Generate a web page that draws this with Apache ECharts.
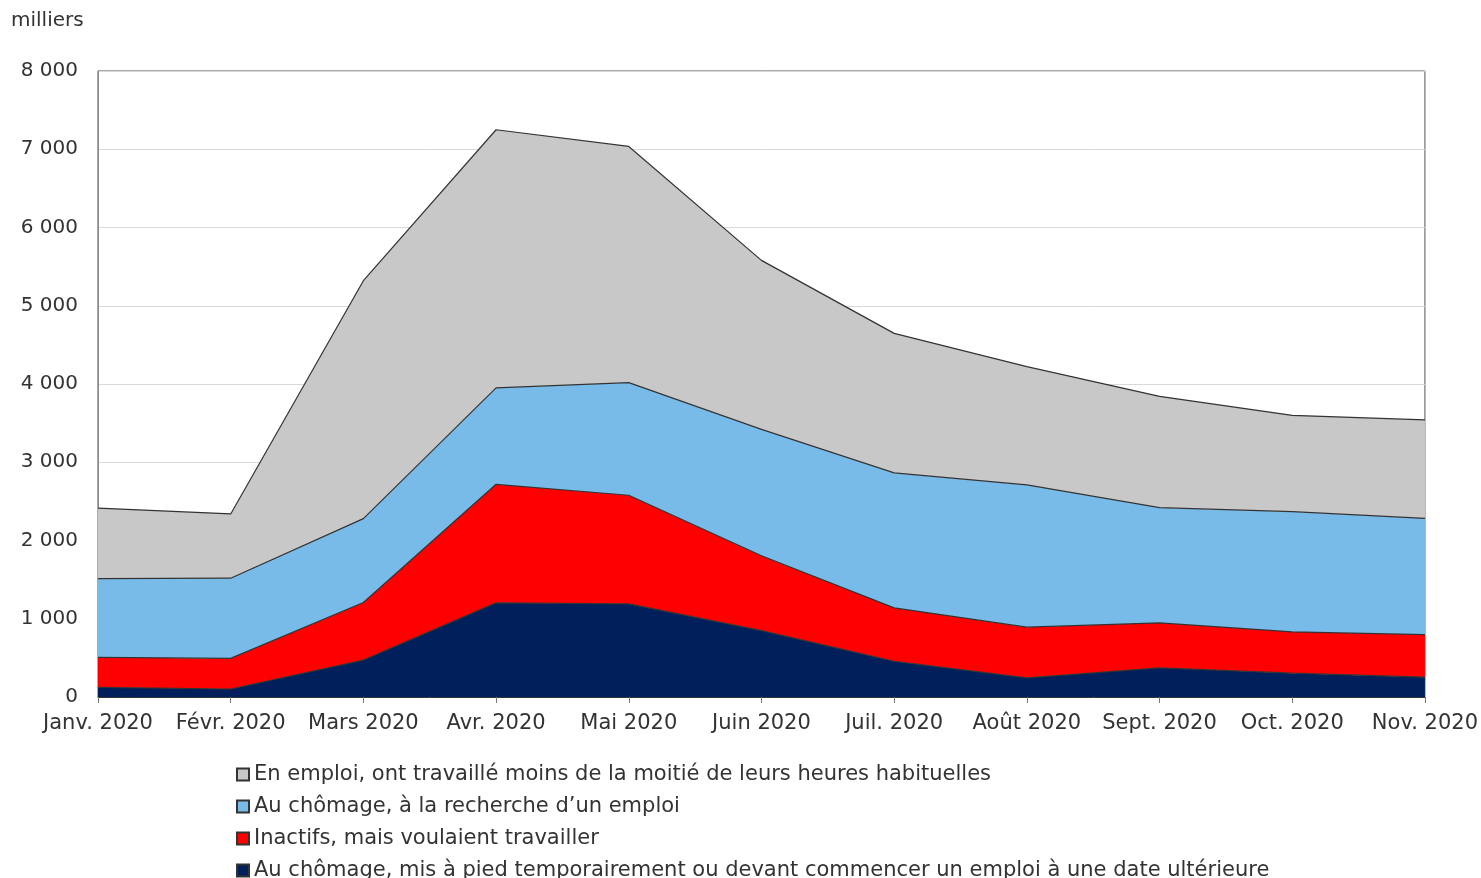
<!DOCTYPE html>
<html>
<head>
<meta charset="utf-8">
<script src="https://cdn.jsdelivr.net/npm/echarts@6/dist/echarts.min.js"></script>
<style>
  html, body { margin: 0; padding: 0; background: #ffffff; }
  #chart { width: 1481px; height: 878px; }
</style>
</head>
<body>
<div id="chart"></div>
<script>
const months = ["Janv. 2020", "Févr. 2020", "Mars 2020", "Avr. 2020", "Mai 2020", "Juin 2020",
  "Juil. 2020", "Août 2020", "Sept. 2020", "Oct. 2020", "Nov. 2020"];

// milliers, stacked from the bottom
const misAPied = [124, 102, 472, 1203, 1190, 849, 457, 245, 373, 304, 253];
const inactifs = [382, 391, 736, 1515, 1388, 956, 682, 647, 575, 529, 545];
const recherche = [1008, 1025, 1072, 1232, 1439, 1615, 1725, 1818, 1472, 1536, 1486];
const moinsMoitie = [901, 821, 3040, 3299, 3019, 2160, 1783, 1511, 1422, 1231, 1257];

const names = [
  "Au chômage, mis à pied temporairement ou devant commencer un emploi à une date ultérieure",
  "Inactifs, mais voulaient travailler",
  "Au chômage, à la recherche d\u2019un emploi",
  "En emploi, ont travaillé moins de la moitié de leurs heures habituelles",
];
const colors = ["#001f5b", "#ff0000", "#78bbe9", "#c8c8c8"];
const values = [misAPied, inactifs, recherche, moinsMoitie];

const FONT = "DejaVu Sans";
const TXT = "#333";
const fmt = (v) => String(v).replace(/\B(?=(\d{3})+(?!\d))/g, " ");

const chart = echarts.init(document.getElementById("chart"), null, { renderer: "canvas" });

chart.setOption({
  backgroundColor: "#ffffff",
  animation: false,
  textStyle: { fontFamily: FONT, color: TXT },
  title: {
    text: "milliers",
    left: 11,
    top: 11,
    padding: 0,
    textStyle: { fontFamily: FONT, fontSize: 20, fontWeight: "normal", color: TXT },
  },
  grid: {
    left: 98, right: 56, top: 71, bottom: 181,
    show: true, borderColor: "#555", borderWidth: 1, backgroundColor: "transparent",
  },
  legend: {
    orient: "vertical",
    left: 236,
    top: 764,
    height: 130,
    padding: 0,
    itemWidth: 12,
    itemHeight: 12,
    itemGap: 11,
    icon: "rect",
    data: names.slice().reverse(),
    textStyle: { fontFamily: FONT, fontSize: 21, color: TXT, lineHeight: 20 },
  },
  xAxis: {
    type: "category",
    data: months,
    boundaryGap: false,
    axisLine: { lineStyle: { color: "#333", width: 1 } },
    axisTick: { show: true, length: 6, lineStyle: { color: "#777" } },
    axisLabel: { fontFamily: FONT, fontSize: 21, color: TXT, margin: 16, interval: 0 },
    splitLine: { show: false },
  },
  yAxis: {
    type: "value",
    min: 0,
    max: 8000,
    interval: 1000,
    axisLine: { show: true, lineStyle: { color: "#888" } },
    axisTick: { show: false },
    axisLabel: { fontFamily: FONT, fontSize: 20, color: TXT, margin: 20, formatter: fmt },
    splitLine: { lineStyle: { color: "#d9d9d9", width: 1 } },
  },
  series: values.map((data, i) => ({
    name: names[i],
    type: "line",
    stack: "total",
    data: data,
    symbol: "none",
    lineStyle: { color: "#333", width: 1.2 },
    areaStyle: { color: colors[i], opacity: 1 },
    itemStyle: { color: colors[i], borderColor: "#333", borderWidth: 1 },
    z: 2,
  })),
});
</script>
</body>
</html>
